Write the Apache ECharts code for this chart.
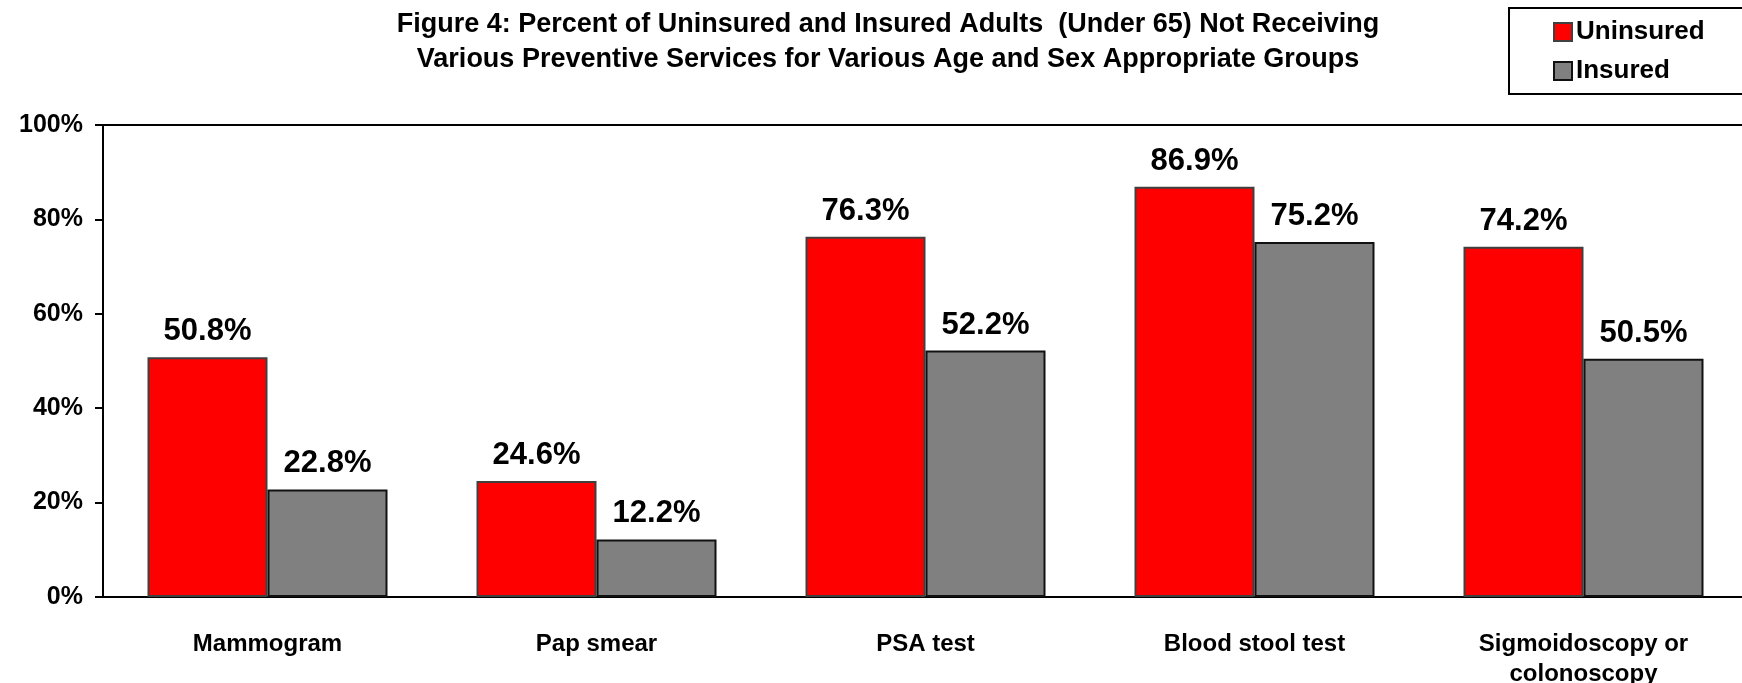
<!DOCTYPE html>
<html>
<head>
<meta charset="utf-8">
<script src="https://cdn.jsdelivr.net/npm/echarts@6/dist/echarts.min.js"></script>
<style>
  html, body { margin: 0; padding: 0; background: #fff; }
  #chart { width: 1742px; height: 683px; }
</style>
</head>
<body>
<div id="chart"></div>
<script>
// data
var categories = ['Mammogram', 'Pap smear', 'PSA test', 'Blood stool test', 'Sigmoidoscopy or\ncolonoscopy'];
var uninsured = [50.8, 24.6, 76.3, 86.9, 74.2];
var insured = [22.8, 12.2, 52.2, 75.2, 50.5];
var yTicks = [0, 20, 40, 60, 80, 100];

var chart = echarts.init(document.getElementById('chart'), null, { renderer: 'canvas' });

var font = 'Liberation Sans, Arial, sans-serif';

var valueLabel = {
    show: true,
    position: 'top',
    distance: 10,
    fontFamily: font,
    fontWeight: 'bold',
    fontSize: 31,
    color: '#000',
    formatter: function (p) {
        return p.value.toFixed(1) + '%';
    }
};

var option = {
    backgroundColor: '#fff',
    animation: false,
    title: {
        text: 'Figure 4: Percent of Uninsured and Insured Adults  (Under 65) Not Receiving\nVarious Preventive Services for Various Age and Sex Appropriate Groups',
        left: 883,
        top: 2,
        textAlign: 'center',
        textStyle: {
            fontFamily: font,
            fontWeight: 'bold',
            fontSize: 27,
            lineHeight: 35,
            color: '#000'
        }
    },
    legend: {
        data: ['Uninsured', 'Insured'],
        orient: 'vertical',
        left: 1509,
        top: 8,
        padding: [11, 60, 10, 44],
        itemGap: 13,
        itemWidth: 18,
        itemHeight: 18,
        icon: 'rect',
        backgroundColor: '#fff',
        borderColor: '#000',
        borderWidth: 2,
        textStyle: {
            fontFamily: font,
            fontWeight: 'bold',
            fontSize: 26,
            color: '#000',
            padding: [0, 0, 0, -1]
        }
    },
    grid: {
        left: 103,
        top: 125,
        width: 1645,
        height: 472,
        outerBoundsMode: 'none',
        show: true,
        borderColor: '#000',
        borderWidth: 2,
        backgroundColor: 'transparent'
    },
    xAxis: {
        type: 'category',
        data: categories,
        axisLine: { lineStyle: { color: '#000', width: 2 } },
        axisTick: { show: false },
        axisLabel: {
            interval: 0,
            margin: 32,
            fontFamily: font,
            fontWeight: 'bold',
            fontSize: 24,
            lineHeight: 30,
            color: '#000'
        }
    },
    yAxis: {
        type: 'value',
        min: yTicks[0],
        max: yTicks[yTicks.length - 1],
        interval: 20,
        axisLine: { show: true, lineStyle: { color: '#000', width: 2 } },
        axisTick: { show: true, length: 8, lineStyle: { color: '#000', width: 2 } },
        splitLine: { show: false },
        axisLabel: {
            margin: 20,
            fontFamily: font,
            fontWeight: 'bold',
            fontSize: 25,
            color: '#000',
            formatter: '{value}%'
        }
    },
    series: [
        {
            name: 'Uninsured',
            type: 'bar',
            data: uninsured,
            barWidth: 120,
            barGap: '0%',
            itemStyle: { color: '#ff0000', borderColor: '#404040', borderWidth: 2 },
            label: valueLabel
        },
        {
            name: 'Insured',
            type: 'bar',
            data: insured,
            barWidth: 120,
            barGap: '0%',
            itemStyle: { color: '#808080', borderColor: '#111', borderWidth: 2 },
            label: valueLabel
        }
    ]
};

chart.setOption(option);
</script>
</body>
</html>
